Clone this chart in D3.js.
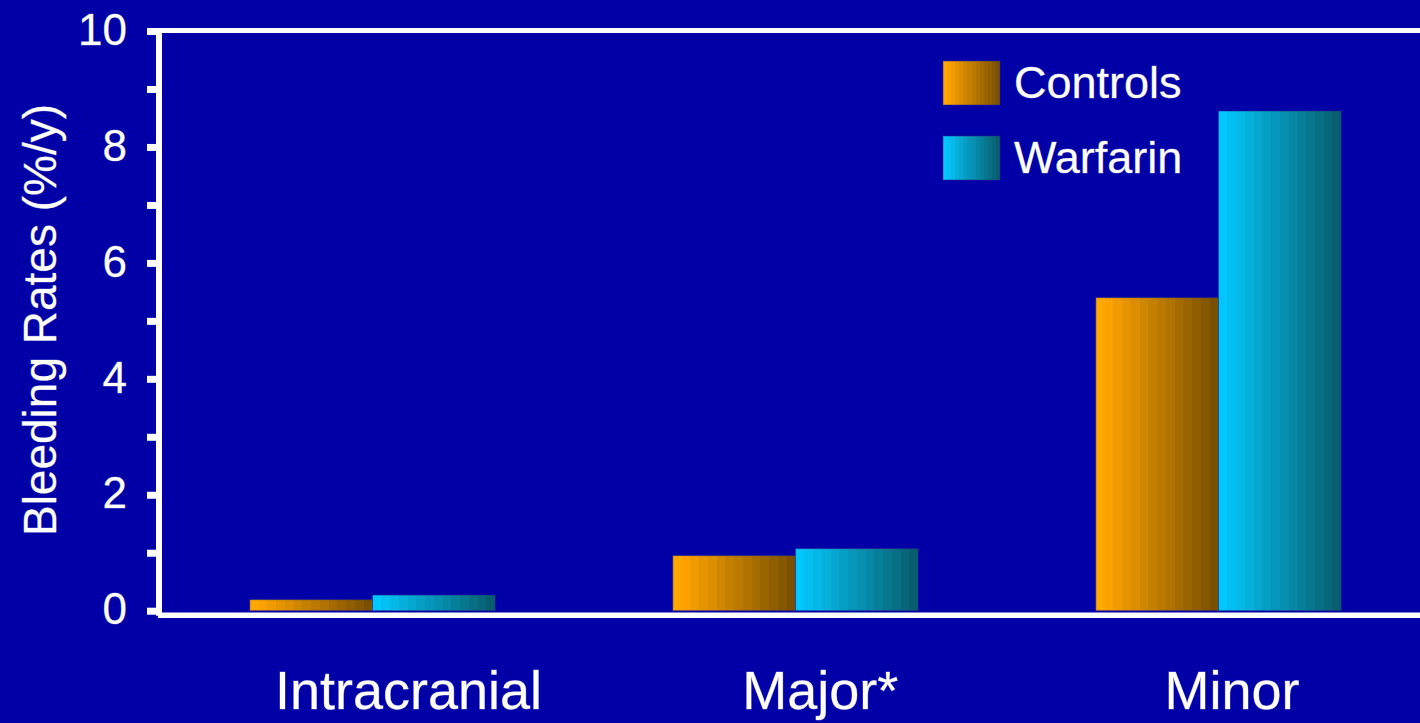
<!DOCTYPE html>
<html>
<head>
<meta charset="utf-8">
<script src="https://cdn.jsdelivr.net/npm/d3@7"></script>
<style>
  html, body { margin: 0; padding: 0; background: #0000A6; overflow: hidden; }
  svg { display: block; }
  text { font-family: "Liberation Sans", Arial, Helvetica, sans-serif; fill: #ffffff;
         stroke: rgba(255,255,255,0.35); stroke-width: 0.8px; }
</style>
</head>
<body>
<svg id="chart" width="1420" height="723"></svg>
<script>
// Bleeding rates by type, controls vs warfarin
const categories = ["Intracranial", "Major*", "Minor"];
const seriesNames = ["Controls", "Warfarin"];
const controlsValues = [0.19, 0.95, 5.4];
const warfarinValues = [0.27, 1.07, 8.62];
const yTicks = [0, 2, 4, 6, 8, 10];
const yMinorTicks = [1, 3, 5, 7, 9];
const yTitle = "Bleeding Rates (%/y)";

const W = 1420, H = 723;
const svg = d3.select("#chart");

const rows = categories.map((c, i) => ({
  category: c,
  values: [
    { series: seriesNames[0], value: controlsValues[i] },
    { series: seriesNames[1], value: warfarinValues[i] }
  ]
}));

// Scales
const y = d3.scaleLinear().domain([0, 10]).range([610.7, 31]);
const x0 = d3.scaleBand().domain(categories).range([161, 1430])
  .paddingInner(0.42).paddingOuter(0.21);
const x1 = d3.scaleBand().domain(seriesNames).range([0, x0.bandwidth()]);
// Category captions sit on their own point scale below the plot
const xLabel = d3.scalePoint().domain(categories).range([408.5, 1232]);

// Stepped horizontal shading for each series
const ramps = {
  Controls: ["#FFA800", "#FBA200", "#7A5000"],
  Warfarin: ["#00C8FF", "#04C0F2", "#075E6E"]
};
const defs = svg.append("defs");
const bands = 14;
seriesNames.forEach(name => {
  const [c0, c1, c2] = ramps[name];
  const g = defs.append("linearGradient").attr("id", "grad-" + name)
    .attr("x1", "0%").attr("x2", "100%").attr("y1", "0%").attr("y2", "0%");
  const interp = d3.interpolateRgb(c1, c2);
  for (let k = 0; k < bands; k++) {
    const col = k < 2 ? d3.interpolateRgb(c0, c1)(k) : interp((k - 1) / (bands - 2));
    g.append("stop").attr("offset", (k / bands * 100) + "%").attr("stop-color", col);
    g.append("stop").attr("offset", ((k + 1) / bands * 100) + "%").attr("stop-color", col);
  }
});
const color = name => `url(#grad-${name})`;

// Bars
const groups = svg.append("g").selectAll("g").data(rows).join("g")
  .attr("transform", d => `translate(${x0(d.category)},0)`);
groups.selectAll("rect").data(d => d.values).join("rect")
  .attr("x", d => x1(d.series))
  .attr("y", d => y(d.value))
  .attr("width", x1.bandwidth())
  .attr("height", d => y(0) - y(d.value))
  .attr("fill", d => color(d.series))
  .attr("stroke", "rgba(40,40,140,0.55)")
  .attr("stroke-width", 1);

// Frame lines: left axis, top rule, bottom baseline
const axisX = 159;
svg.append("line").attr("x1", axisX).attr("x2", axisX)
  .attr("y1", y(10) - 3).attr("y2", y(0) + 5)
  .attr("stroke", "#fff").attr("stroke-width", 6);
svg.append("line").attr("x1", axisX - 3).attr("x2", W)
  .attr("y1", y(10) - 0.5).attr("y2", y(10) - 0.5)
  .attr("stroke", "#fff").attr("stroke-width", 5);
svg.append("line").attr("x1", axisX - 1).attr("x2", W)
  .attr("y1", y(0) + 4.5).attr("y2", y(0) + 4.5)
  .attr("stroke", "#fff").attr("stroke-width", 5.5);

// Y axis ticks and labels
const yAxis = d3.axisLeft(y).tickValues(yTicks.concat(yMinorTicks))
  .tickSize(12).tickPadding(20)
  .tickFormat(d => yTicks.includes(d) ? d3.format("d")(d) : "");
const ga = svg.append("g").attr("transform", `translate(${axisX},0)`).call(yAxis);
ga.select(".domain").remove();
ga.selectAll(".tick line").attr("stroke", "#fff").attr("stroke-width", 7);
ga.selectAll(".tick text")
  .attr("fill", "#fff")
  .style("font-size", "44px")
  .style("font-family", "'Liberation Sans', Arial, sans-serif")
  .attr("dy", "0.3em");

// Y axis title
svg.append("text")
  .attr("transform", `translate(56,320) rotate(-90)`)
  .attr("text-anchor", "middle")
  .style("font-size", "46px")
  .text(yTitle);

// Category captions
svg.append("g").selectAll("text").data(categories).join("text")
  .attr("x", d => xLabel(d))
  .attr("y", 709)
  .attr("text-anchor", "middle")
  .style("font-size", "54px")
  .text(d => d);

// Legend
const legend = svg.append("g").attr("transform", "translate(943,61)");
const li = legend.selectAll("g").data(seriesNames).join("g")
  .attr("transform", (d, i) => `translate(0,${i * 75})`);
li.append("rect").attr("width", 57).attr("height", 44)
  .attr("fill", d => color(d))
  .attr("stroke", "rgba(40,40,140,0.55)").attr("stroke-width", 1);
li.append("text").attr("x", 71).attr("y", 37)
  .style("font-size", "45px")
  .text(d => d);
</script>
</body>
</html>
